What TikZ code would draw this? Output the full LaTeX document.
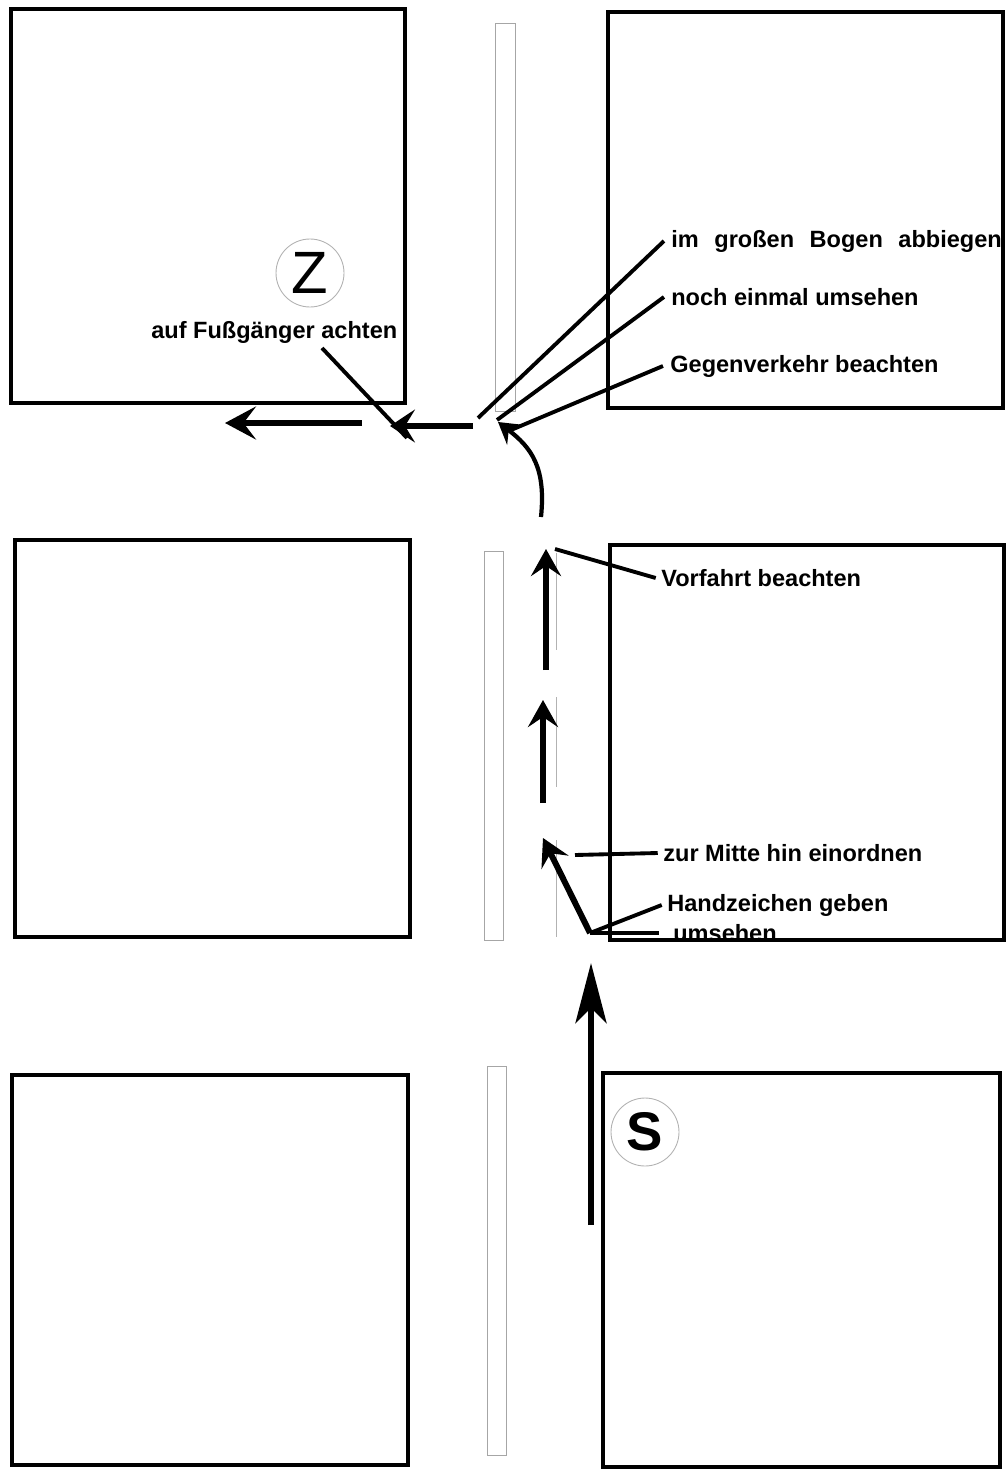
\documentclass[tikz,border=0pt]{standalone}
\usepackage{fontspec}
\setmainfont{Liberation Sans}
\usetikzlibrary{arrows.meta}

\begin{document}
\begin{tikzpicture}[x=0.02cm, y=-0.02cm,
    block/.style={line width=2.3pt},
    strip/.style={draw=gray!70, line width=0.5pt},
    lane/.style={gray!60, line width=0.5pt},
    lead/.style={line width=2.2pt},
    hint/.style={font=\fontsize{13.4}{15}\selectfont\bfseries, inner sep=0pt, anchor=west},
    way/.style={line width=3.4pt, -{Stealth[length=0.54cm, width=0.6cm, inset=0.2cm]}},
    mark node/.style={circle, draw=gray!60, line width=0.5pt, minimum size=1.36cm, inner sep=0pt},
  ]
  \def\gap{\hspace{0.66em}}
  \useasboundingbox (0,0) rectangle (1006,1470);

  % Mittelstreifen und Fahrbahnmarkierung
  \draw[strip] (495,23) rectangle (515,411);
  \draw[strip] (484,551) rectangle (503,940);
  \draw[strip] (487,1066) rectangle (506,1455);
  \draw[lane] (556,553) -- (556,650);
  \draw[lane] (556,697) -- (556,787);
  \draw[lane] (556,840) -- (556,937);

  % Texte
  \node[hint] (bogen) at (671,241) {im\gap großen\gap Bogen\gap abbiegen};
  \node[hint] (noch) at (671,297) {noch einmal umsehen};
  \node[hint] (gegen) at (670,366) {Gegenverkehr beachten};
  \node[hint] (vorfahrt) at (661,578) {Vorfahrt beachten};
  \node[hint] (mitte) at (663,853) {zur Mitte hin einordnen};
  \node[hint] (hand) at (667,905) {Handzeichen geben};
  \node[hint] (um) at (673,933) {umsehen};
  \node[hint] (fuss) at (151,332) {auf Fußgänger achten};

  \node[mark node] (Z) at (310,273) {\fontsize{34}{34}\selectfont Z};
  \node[mark node] (S) at (645,1132) {\fontsize{31}{31}\selectfont\bfseries S};

  % Häuserblöcke
  \draw[block] (11,9) rectangle (405,403);
  \draw[block] (608,12) rectangle (1003,408);
  \draw[block] (15,540) rectangle (410,937);
  \draw[block] (610,545) rectangle (1004,940);
  \draw[block] (12,1075) rectangle (408,1465);
  \draw[block] (603,1073) rectangle (1000,1467);

  \coordinate (s0) at (591,1225);
  \coordinate (s1) at (591,963);
  \coordinate (k) at (590,933);
  \coordinate (a3) at (543,838);
  \coordinate (a2s) at (543,803);
  \coordinate (a2) at (543,700);
  \coordinate (a1s) at (546,670);
  \coordinate (a1) at (546,549);
  \coordinate (c0) at (541,517);
  \coordinate (c1) at (498,422);
  \coordinate (h0) at (473,426);
  \coordinate (h1) at (390,426);
  \coordinate (h2) at (362,423);
  \coordinate (h3) at (225,423);

  \draw[way, -{Stealth[length=1.2cm, width=0.62cm, inset=0.3cm]}] (s0) -- (s1);
  \draw[way, line join=miter] (k) -- (a3);
  \draw[way] (a2s) -- (a2);
  \draw[way] (a1s) -- (a1);
  \draw[line width=2.4pt, -{Stealth[length=0.42cm, width=0.5cm, inset=0.15cm]}]
    (c0) .. controls (546,468) and (532,448) .. (c1);
  \draw[way, -{Stealth[length=0.5cm, width=0.66cm, inset=0.2cm]}] (h0) -- (h1);
  \draw[way, -{Stealth[length=0.62cm, width=0.66cm, inset=0.25cm]}] (h2) -- (h3);

  % Hinweislinien
  \coordinate (e1) at (478,418);
  \coordinate (e2) at (497,420);
  \coordinate (e3) at (511,430);
  \coordinate (e4) at (555,549);
  \coordinate (e5) at (575,855);
  \coordinate (f0) at (322,348);
  \coordinate (f1) at (407,438);
  \draw[lead] ([xshift=-4pt]bogen.west) -- (e1);
  \draw[lead] ([xshift=-4pt]noch.west) -- (e2);
  \draw[lead] ([xshift=-4pt]gegen.west) -- (e3);
  \draw[lead] ([xshift=-3pt]vorfahrt.west) -- (e4);
  \draw[lead] ([xshift=-3pt]mitte.west) -- (e5);
  \draw[lead] ([xshift=-3pt]hand.west) -- (k);
  \draw[lead] (k) -- ([xshift=-8pt]um.west);
  \draw[lead] (f0) -- (f1);
\end{tikzpicture}
\end{document}
